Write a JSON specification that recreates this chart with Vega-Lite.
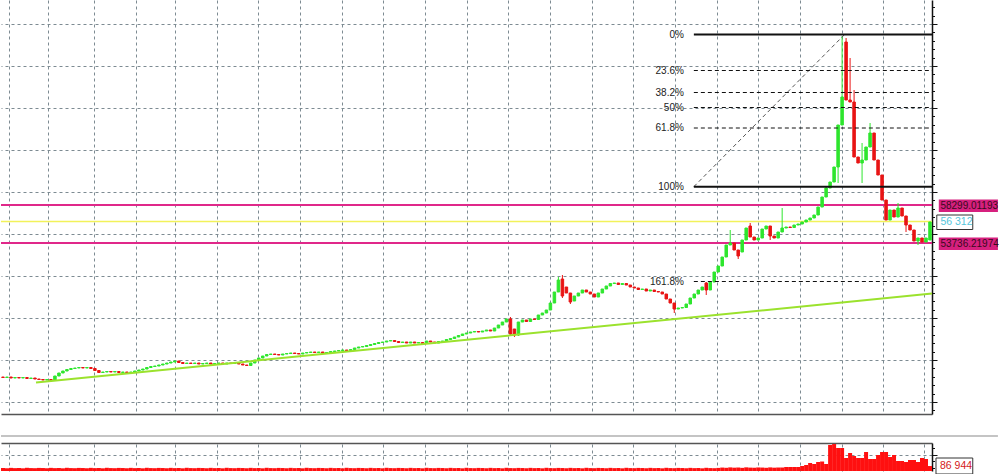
{
"$schema": "https://vega.github.io/schema/vega-lite/v6.json",
"padding": 0,
"background": "white",
"bounds": "flush",
"spacing": 29,
"config": {"view": {"stroke": null}, "font": "Liberation Sans", "scale": {"continuousPadding": 0}},
"datasets": {
"k": [
{"i":0,"o":37660,"c":37600,"v":52000},{"i":1,"o":37600,"c":37660,"v":48000},{"i":2,"o":37660,"c":37540,"v":55000},{"i":3,"o":37540,"c":37600,"v":50000},{"i":4,"o":37600,"c":37540,"v":53000},
{"i":5,"o":37540,"c":37600,"v":47000},{"i":6,"o":37600,"c":37480,"v":56000},{"i":7,"o":37480,"c":37540,"v":51000},{"i":8,"o":37540,"c":37420,"v":49000},{"i":9,"o":37420,"c":37360,"v":54000},
{"i":10,"o":37360,"c":37300,"v":52000},{"i":11,"o":37300,"c":37360,"v":48000},{"i":12,"o":37360,"c":37240,"v":55000},{"i":13,"o":37240,"c":37780,"v":50000},{"i":14,"o":37780,"c":38140,"v":53000},
{"i":15,"o":38140,"c":38380,"v":47000},{"i":16,"o":38380,"c":38560,"v":56000},{"i":17,"o":38560,"c":38680,"v":51000},{"i":18,"o":38680,"c":38740,"v":49000},{"i":19,"o":38740,"c":38800,"v":54000},
{"i":20,"o":38800,"c":38740,"v":52000},{"i":21,"o":38740,"c":38800,"v":48000},{"i":22,"o":38800,"c":38680,"v":55000},{"i":23,"o":38680,"c":38440,"v":50000},{"i":24,"o":38440,"c":38200,"v":53000},
{"i":25,"o":38200,"c":38260,"v":47000},{"i":26,"o":38260,"c":38320,"v":56000},{"i":27,"o":38320,"c":38260,"v":51000},{"i":28,"o":38260,"c":38320,"v":49000},{"i":29,"o":38320,"c":38200,"v":54000},
{"i":30,"o":38200,"c":38260,"v":52000},{"i":31,"o":38260,"c":38200,"v":48000},{"i":32,"o":38200,"c":38260,"v":55000},{"i":33,"o":38260,"c":38380,"v":50000},{"i":34,"o":38380,"c":38500,"v":53000},
{"i":35,"o":38500,"c":38620,"v":47000},{"i":36,"o":38620,"c":38800,"v":56000},{"i":37,"o":38800,"c":38920,"v":51000},{"i":38,"o":38920,"c":38980,"v":49000},{"i":39,"o":38980,"c":39100,"v":54000},
{"i":40,"o":39100,"c":39220,"v":52000},{"i":41,"o":39220,"c":39340,"v":48000},{"i":42,"o":39340,"c":39460,"v":55000},{"i":43,"o":39460,"c":39580,"v":50000},{"i":44,"o":39580,"c":39400,"v":53000},
{"i":45,"o":39400,"c":39280,"v":47000},{"i":46,"o":39280,"c":39340,"v":56000},{"i":47,"o":39340,"c":39280,"v":51000},{"i":48,"o":39280,"c":39340,"v":49000},{"i":49,"o":39340,"c":39220,"v":54000},
{"i":50,"o":39220,"c":39280,"v":52000},{"i":51,"o":39280,"c":39340,"v":48000},{"i":52,"o":39340,"c":39220,"v":55000},{"i":53,"o":39220,"c":39280,"v":50000},{"i":54,"o":39280,"c":39340,"v":53000},
{"i":55,"o":39340,"c":39220,"v":47000},{"i":56,"o":39220,"c":39340,"v":56000},{"i":57,"o":39340,"c":39280,"v":51000},{"i":58,"o":39280,"c":39340,"v":49000},{"i":59,"o":39340,"c":39220,"v":54000},
{"i":60,"o":39220,"c":39100,"v":52000},{"i":61,"o":39100,"c":39040,"v":48000},{"i":62,"o":39040,"c":39340,"v":55000},{"i":63,"o":39340,"c":39700,"v":50000},{"i":64,"o":39700,"c":39940,"v":53000},
{"i":65,"o":39940,"c":40180,"v":47000},{"i":66,"o":40180,"c":40360,"v":56000},{"i":67,"o":40360,"c":40420,"v":51000},{"i":68,"o":40420,"c":40360,"v":49000},{"i":69,"o":40360,"c":40300,"v":54000},
{"i":70,"o":40300,"c":40420,"v":52000},{"i":71,"o":40420,"c":40480,"v":48000},{"i":72,"o":40480,"c":40540,"v":55000},{"i":73,"o":40540,"c":40480,"v":50000},{"i":74,"o":40480,"c":40420,"v":53000},
{"i":75,"o":40420,"c":40540,"v":47000},{"i":76,"o":40540,"c":40600,"v":56000},{"i":77,"o":40600,"c":40660,"v":51000},{"i":78,"o":40660,"c":40600,"v":49000},{"i":79,"o":40600,"c":40660,"v":54000},
{"i":80,"o":40660,"c":40540,"v":52000},{"i":81,"o":40540,"c":40600,"v":48000},{"i":82,"o":40600,"c":40720,"v":55000},{"i":83,"o":40720,"c":40780,"v":50000},{"i":84,"o":40780,"c":40840,"v":53000},
{"i":85,"o":40840,"c":40900,"v":47000},{"i":86,"o":40900,"c":40840,"v":56000},{"i":87,"o":40840,"c":40960,"v":51000},{"i":88,"o":40960,"c":41140,"v":49000},{"i":89,"o":41140,"c":41260,"v":54000},
{"i":90,"o":41260,"c":41320,"v":52000},{"i":91,"o":41320,"c":41440,"v":48000},{"i":92,"o":41440,"c":41560,"v":55000},{"i":93,"o":41560,"c":41680,"v":50000},{"i":94,"o":41680,"c":41800,"v":53000},
{"i":95,"o":41800,"c":41860,"v":47000},{"i":96,"o":41860,"c":41980,"v":56000},{"i":97,"o":41980,"c":42040,"v":51000},{"i":98,"o":42040,"c":41920,"v":49000},{"i":99,"o":41920,"c":41800,"v":54000},
{"i":100,"o":41800,"c":41860,"v":52000},{"i":101,"o":41860,"c":41740,"v":48000},{"i":102,"o":41740,"c":41860,"v":55000},{"i":103,"o":41860,"c":41740,"v":50000},{"i":104,"o":41740,"c":41800,"v":53000},
{"i":105,"o":41800,"c":41680,"v":47000},{"i":106,"o":41680,"c":41980,"v":56000},{"i":107,"o":41980,"c":41860,"v":51000},{"i":108,"o":41860,"c":41740,"v":49000},{"i":109,"o":41740,"c":41920,"v":54000},
{"i":110,"o":41920,"c":41980,"v":52000},{"i":111,"o":41980,"c":42160,"v":48000},{"i":112,"o":42160,"c":42280,"v":55000},{"i":113,"o":42280,"c":42460,"v":50000},{"i":114,"o":42460,"c":42640,"v":53000},
{"i":115,"o":42640,"c":42820,"v":47000},{"i":116,"o":42820,"c":42940,"v":56000},{"i":117,"o":42940,"c":43060,"v":51000},{"i":118,"o":43060,"c":43120,"v":49000},{"i":119,"o":43120,"c":43060,"v":54000},
{"i":120,"o":43060,"c":43180,"v":52000},{"i":121,"o":43180,"c":43300,"v":48000},{"i":122,"o":43300,"c":43180,"v":55000},{"i":123,"o":43180,"c":43540,"v":50000},{"i":124,"o":43540,"c":43900,"v":53000},
{"i":125,"o":43900,"c":44260,"v":47000},{"i":126,"o":44260,"c":44620,"v":56000},{"i":127,"o":44620,"c":42820,"h":44860,"l":42580,"v":51000},{"i":128,"o":43420,"c":42700,"h":43420,"l":42460,"v":49000},{"i":129,"o":42700,"c":44260,"h":44260,"l":42580,"v":54000},
{"i":130,"o":44260,"c":44500,"v":52000},{"i":131,"o":44500,"c":44320,"v":48000},{"i":132,"o":44320,"c":44620,"v":55000},{"i":133,"o":44620,"c":44560,"v":50000},{"i":134,"o":44560,"c":45100,"v":53000},
{"i":135,"o":45100,"c":45340,"v":47000},{"i":136,"o":45340,"c":45700,"v":56000},{"i":137,"o":45700,"c":46540,"v":51000},{"i":138,"o":46540,"c":47860,"v":49000},{"i":139,"o":47860,"c":49300,"h":49660,"l":47860,"v":54000},
{"i":140,"o":49420,"c":47380,"h":49900,"l":47140,"v":52000},{"i":141,"o":48460,"c":47740,"v":48000},{"i":142,"o":47740,"c":46660,"h":47740,"l":46420,"v":55000},{"i":143,"o":46780,"c":47380,"v":50000},{"i":144,"o":47380,"c":47740,"v":53000},
{"i":145,"o":47740,"c":48100,"v":47000},{"i":146,"o":48100,"c":47860,"v":56000},{"i":147,"o":47860,"c":47620,"v":51000},{"i":148,"o":47620,"c":47260,"v":49000},{"i":149,"o":47260,"c":47740,"v":54000},
{"i":150,"o":47740,"c":48220,"v":52000},{"i":151,"o":48220,"c":48580,"v":48000},{"i":152,"o":48580,"c":48880,"v":55000},{"i":153,"o":48880,"c":48940,"v":50000},{"i":154,"o":48940,"c":48760,"v":53000},
{"i":155,"o":48760,"c":48880,"v":47000},{"i":156,"o":48880,"c":48700,"v":56000},{"i":157,"o":48700,"c":48460,"v":51000},{"i":158,"o":48460,"c":48340,"v":49000},{"i":159,"o":48340,"c":48160,"v":54000},
{"i":160,"o":48160,"c":48220,"v":52000},{"i":161,"o":48220,"c":47980,"v":48000},{"i":162,"o":47980,"c":48100,"v":55000},{"i":163,"o":48100,"c":47920,"v":50000},{"i":164,"o":47920,"c":47860,"v":53000},
{"i":165,"o":47860,"c":47620,"v":47000},{"i":166,"o":47620,"c":47020,"v":56000},{"i":167,"o":47020,"c":46540,"v":51000},{"i":168,"o":46540,"c":45820,"h":46540,"l":45340,"v":49000},{"i":169,"o":45820,"c":45940,"v":54000},
{"i":170,"o":45940,"c":46000,"v":52000},{"i":171,"o":46000,"c":46420,"v":48000},{"i":172,"o":46420,"c":47140,"v":55000},{"i":173,"o":47140,"c":47620,"v":50000},{"i":174,"o":47620,"c":48100,"v":53000},
{"i":175,"o":48100,"c":48460,"v":47000},{"i":176,"o":48940,"c":48100,"h":49060,"l":47500,"v":56000},{"i":177,"o":48100,"c":49060,"v":51000},{"i":178,"o":49060,"c":50260,"v":49000},{"i":179,"o":50260,"c":50980,"v":54000},
{"i":180,"o":50980,"c":52060,"v":60000},{"i":181,"o":52060,"c":53500,"v":56000},{"i":182,"o":53500,"c":53740,"h":55300,"l":53500,"v":63000},{"i":183,"o":53740,"c":52900,"v":58000},{"i":184,"o":52900,"c":52180,"h":52900,"l":51820,"v":61000},
{"i":185,"o":52660,"c":54100,"v":55000},{"i":186,"o":54100,"c":55540,"v":64000},{"i":187,"o":55780,"c":54460,"h":56140,"l":54460,"v":59000},{"i":188,"o":54460,"c":54100,"v":57000},{"i":189,"o":54100,"c":54340,"v":62000},
{"i":190,"o":54340,"c":55420,"v":60000},{"i":191,"o":55420,"c":55780,"v":56000},{"i":192,"o":55780,"c":54580,"h":55780,"l":54100,"v":63000},{"i":193,"o":54580,"c":54340,"v":58000},{"i":194,"o":54340,"c":55060,"v":61000},
{"i":195,"o":55060,"c":55540,"h":57940,"l":55060,"v":61000},{"i":196,"o":55540,"c":55660,"v":70000},{"i":197,"o":55660,"c":55600,"v":70000},{"i":198,"o":55600,"c":55900,"v":70000},{"i":199,"o":55900,"c":56020,"v":70000},
{"i":200,"o":56020,"c":56260,"v":87500},{"i":201,"o":56260,"c":56500,"v":105000},{"i":202,"o":56500,"c":56740,"v":140000},{"i":203,"o":56740,"c":57100,"v":122500},{"i":204,"o":57100,"c":58060,"v":157500},
{"i":205,"o":58060,"c":59260,"v":166000},{"i":206,"o":59260,"c":60340,"h":60580,"l":59260,"v":122500},{"i":207,"o":60340,"c":61060,"v":455000},{"i":208,"o":61060,"c":62860,"v":472000},{"i":209,"o":62860,"c":67900,"h":67900,"l":60940,"v":402500},
{"i":210,"o":67900,"c":71260,"h":78580,"l":67900,"v":402500},{"i":211,"o":77860,"c":70900,"h":78340,"l":70900,"v":227500},{"i":212,"o":70900,"c":70660,"h":75940,"l":70660,"v":315000},{"i":213,"o":70660,"c":64060,"h":72100,"l":64060,"v":262500},{"i":214,"o":64060,"c":63340,"v":227500},
{"i":215,"o":63340,"c":63700,"h":65740,"l":60940,"v":227500},{"i":216,"o":63700,"c":65260,"v":332500},{"i":217,"o":65260,"c":66940,"h":68140,"l":65260,"v":210000},{"i":218,"o":66940,"c":63700,"v":210000},{"i":219,"o":63700,"c":61900,"v":280000},
{"i":220,"o":61900,"c":58900,"v":332500},{"i":221,"o":58900,"c":56500,"v":332500},{"i":222,"o":56500,"c":57700,"v":245000},{"i":223,"o":57700,"c":56860,"v":280000},{"i":224,"o":56860,"c":57940,"h":58540,"l":56860,"v":175000},
{"i":225,"o":57940,"c":56980,"v":175000},{"i":226,"o":56980,"c":55900,"h":56980,"l":55060,"v":157500},{"i":227,"o":55900,"c":55300,"v":192500},{"i":228,"o":55300,"c":53980,"v":192500},{"i":229,"o":53980,"c":54340,"h":54340,"l":53500,"v":157500},
{"i":230,"o":54340,"c":53860,"v":227500},{"i":231,"o":53860,"c":54340,"v":210000},{"i":232,"o":54100,"c":56260,"v":86944}
],
"fib": [
{"lbl":"0%","p":78760,"s":1},
{"lbl":"23.6%","p":74440,"s":0},
{"lbl":"38.2%","p":71800,"s":0},
{"lbl":"50%","p":70000,"s":0},
{"lbl":"61.8%","p":67540,"s":0},
{"lbl":"100%","p":60500,"s":1},
{"lbl":"161.8%","p":49120,"s":0}
]
},
"vconcat": [
{
"width": 931,
"height": 414,
"resolve": {"axis": {"x": "independent", "y": "independent"}},
"layer": [
{
"data": {"name": "k"},
"mark": {"type": "bar", "size": 3, "opacity": 0},
"encoding": {
"x": {"field": "i", "type": "quantitative", "scale": {"domain": [-0.5, 232.5], "nice": false, "zero": false, "padding": 0},
"axis": {"orient": "bottom", "values": [1.5, 11.3, 22.8, 33.3, 43.0, 53.6, 63.8, 74.3, 84.8, 95.1, 105.6, 116.1, 126.4, 136.9, 147.4, 157.7, 168.2, 178.7, 188.9, 199.4, 210.0, 220.2, 230.5], "grid": true, "gridColor": "#7d8b92", "gridDash": [3, 3], "gridWidth": 1, "labels": false, "ticks": false, "domain": true, "domainColor": "#555555", "domainWidth": 1.5, "title": null}},
"y": {"field": "o", "type": "quantitative", "scale": {"domain": [33220, 82900], "nice": false, "zero": false, "padding": 0},
"axis": {"orient": "right", "values": [82036, 81028, 80020, 79012, 78004, 76996, 75988, 74980, 73972, 72964, 71956, 70948, 69940, 68932, 67924, 66916, 65908, 64900, 63892, 62884, 61876, 60868, 59860, 58852, 57844, 56836, 55828, 54820, 53812, 52804, 51796, 50788, 49780, 48772, 47764, 46756, 45748, 44740, 43732, 42724, 41716, 40708, 39700, 38692, 37684, 36676, 35668, 34660, 33652],
"grid": true, "gridColor": "#7d8b92", "gridDash": [3, 3], "gridWidth": 1,
"gridOpacity": {"condition": {"test": "indexof([80020,74980,69940,64900,59860,54820,49780,44740,39700,34660], datum.value) >= 0", "value": 1}, "value": 0},
"tickSize": {"condition": {"test": "indexof([80020,74980,69940,64900,59860,54820,49780,44740,39700,34660], datum.value) >= 0", "value": 5}, "value": 2.5},
"tickColor": "#111111", "domainColor": "#111111", "domainWidth": 1.5, "labels": false, "title": null}},
"y2": {"field": "c"}
}
},
{
"data": {"values": [{"p": 58299.01193}, {"p": 53736.21974}]},
"mark": {"type": "rule", "color": "#e0288a", "strokeWidth": 2},
"encoding": {
"x": {"datum": -0.5, "type": "quantitative", "scale": {"domain": [-0.5, 232.5], "nice": false, "zero": false, "padding": 0}, "axis": null},
"x2": {"datum": 232.5},
"y": {"field": "p", "type": "quantitative", "scale": {"domain": [33220, 82900], "nice": false, "zero": false}, "axis": null}
}
},
{
"data": {"values": [{"p": 56312}]},
"mark": {"type": "rule", "color": "#f2f25a", "strokeWidth": 1.5},
"encoding": {
"x": {"datum": -0.5, "type": "quantitative", "scale": {"domain": [-0.5, 232.5], "nice": false, "zero": false, "padding": 0}, "axis": null},
"x2": {"datum": 232.5},
"y": {"field": "p", "type": "quantitative", "scale": {"domain": [33220, 82900], "nice": false, "zero": false}, "axis": null}
}
},
{
"data": {"name": "k"},
"transform": [{"filter": "isValid(datum.h)"}],
"mark": {"type": "rule", "strokeWidth": 1},
"encoding": {
"x": {"field": "i", "type": "quantitative", "scale": {"domain": [-0.5, 232.5], "nice": false, "zero": false, "padding": 0}, "axis": null},
"y": {"field": "l", "type": "quantitative", "scale": {"domain": [33220, 82900], "nice": false, "zero": false}, "axis": null},
"y2": {"field": "h"},
"color": {"condition": {"test": "datum.c >= datum.o", "value": "#2ee62e"}, "value": "#e81414"}
}
},
{
"data": {"name": "k"},
"mark": {"type": "bar", "size": 2.5, "strokeWidth": 1},
"encoding": {
"x": {"field": "i", "type": "quantitative", "scale": {"domain": [-0.5, 232.5], "nice": false, "zero": false, "padding": 0}, "axis": null},
"y": {"field": "o", "type": "quantitative", "scale": {"domain": [33220, 82900], "nice": false, "zero": false, "padding": 0}, "axis": null},
"y2": {"field": "c"},
"color": {"condition": {"test": "datum.c >= datum.o", "value": "#2ee62e"}, "value": "#e81414"},
"stroke": {"condition": {"test": "datum.c >= datum.o", "value": "#2ee62e"}, "value": "#e81414"}
}
},
{
"data": {"values": [{"i": 8.26, "p": 37000}, {"i": 232.5, "p": 47680}]},
"mark": {"type": "line", "color": "#9be22d", "strokeWidth": 2},
"encoding": {
"x": {"field": "i", "type": "quantitative", "scale": {"domain": [-0.5, 232.5], "nice": false, "zero": false, "padding": 0}, "axis": null},
"y": {"field": "p", "type": "quantitative", "scale": {"domain": [33220, 82900], "nice": false, "zero": false}, "axis": null}
}
},
{
"data": {"values": [{"i": 172.9, "p": 60500}, {"i": 210.5, "p": 78700}]},
"mark": {"type": "line", "color": "#555555", "strokeWidth": 1, "strokeDash": [4, 3]},
"encoding": {
"x": {"field": "i", "type": "quantitative", "scale": {"domain": [-0.5, 232.5], "nice": false, "zero": false, "padding": 0}, "axis": null},
"y": {"field": "p", "type": "quantitative", "scale": {"domain": [33220, 82900], "nice": false, "zero": false}, "axis": null}
}
},
{
"data": {"name": "fib"},
"transform": [{"filter": "datum.s == 1"}],
"mark": {"type": "rule", "color": "#111111", "strokeWidth": 2},
"encoding": {
"x": {"datum": 172.9, "type": "quantitative", "scale": {"domain": [-0.5, 232.5], "nice": false, "zero": false, "padding": 0}, "axis": null},
"x2": {"datum": 232.5},
"y": {"field": "p", "type": "quantitative", "scale": {"domain": [33220, 82900], "nice": false, "zero": false}, "axis": null}
}
},
{
"data": {"name": "fib"},
"transform": [{"filter": "datum.s == 0"}],
"mark": {"type": "rule", "color": "#111111", "strokeWidth": 1, "strokeDash": [4, 3]},
"encoding": {
"x": {"datum": 172.9, "type": "quantitative", "scale": {"domain": [-0.5, 232.5], "nice": false, "zero": false, "padding": 0}, "axis": null},
"x2": {"datum": 232.5},
"y": {"field": "p", "type": "quantitative", "scale": {"domain": [33220, 82900], "nice": false, "zero": false}, "axis": null}
}
},
{
"data": {"name": "fib"},
"mark": {"type": "text", "align": "right", "baseline": "middle", "fontSize": 10, "color": "#222222", "font": "Liberation Sans"},
"encoding": {
"x": {"datum": 170.4, "type": "quantitative", "scale": {"domain": [-0.5, 232.5], "nice": false, "zero": false, "padding": 0}, "axis": null},
"y": {"field": "p", "type": "quantitative", "scale": {"domain": [33220, 82900], "nice": false, "zero": false}, "axis": null},
"text": {"field": "lbl"}
}
},
{
"data": {"values": [{"t": "58299.01193"}]},
"layer": [
{"mark": {"type": "rect", "color": "#d6207e"},
"encoding": {
"x": {"datum": 234.2, "type": "quantitative", "scale": {"domain": [-0.5, 232.5], "nice": false, "zero": false, "padding": 0}, "axis": null},
"x2": {"datum": 249.0},
"y": {"datum": 58960, "type": "quantitative", "scale": {"domain": [33220, 82900], "nice": false, "zero": false}, "axis": null},
"y2": {"datum": 57460}}},
{"mark": {"type": "text", "align": "left", "baseline": "middle", "fontSize": 10, "color": "#3a0a20", "font": "Liberation Sans"},
"encoding": {
"x": {"datum": 234.6, "type": "quantitative", "scale": {"domain": [-0.5, 232.5], "nice": false, "zero": false, "padding": 0}, "axis": null},
"y": {"datum": 58210, "type": "quantitative", "scale": {"domain": [33220, 82900], "nice": false, "zero": false}, "axis": null},
"text": {"field": "t"}}}
]
},
{
"data": {"values": [{"t": "53736.21974"}]},
"layer": [
{"mark": {"type": "rect", "color": "#d6207e"},
"encoding": {
"x": {"datum": 234.2, "type": "quantitative", "scale": {"domain": [-0.5, 232.5], "nice": false, "zero": false, "padding": 0}, "axis": null},
"x2": {"datum": 249.0},
"y": {"datum": 54400, "type": "quantitative", "scale": {"domain": [33220, 82900], "nice": false, "zero": false}, "axis": null},
"y2": {"datum": 52900}}},
{"mark": {"type": "text", "align": "left", "baseline": "middle", "fontSize": 10, "color": "#3a0a20", "font": "Liberation Sans"},
"encoding": {
"x": {"datum": 234.6, "type": "quantitative", "scale": {"domain": [-0.5, 232.5], "nice": false, "zero": false, "padding": 0}, "axis": null},
"y": {"datum": 53650, "type": "quantitative", "scale": {"domain": [33220, 82900], "nice": false, "zero": false}, "axis": null},
"text": {"field": "t"}}}
]
},
{
"data": {"values": [{"t": "56 312"}]},
"layer": [
{"mark": {"type": "rect", "fill": "white", "stroke": "#333333", "strokeWidth": 1},
"encoding": {
"x": {"datum": 233.7, "type": "quantitative", "scale": {"domain": [-0.5, 232.5], "nice": false, "zero": false, "padding": 0}, "axis": null},
"x2": {"datum": 242.7},
"y": {"datum": 57100, "type": "quantitative", "scale": {"domain": [33220, 82900], "nice": false, "zero": false}, "axis": null},
"y2": {"datum": 55360}}},
{"mark": {"type": "text", "align": "left", "baseline": "middle", "fontSize": 10.5, "color": "#55c6dc", "font": "Liberation Sans"},
"encoding": {
"x": {"datum": 234.6, "type": "quantitative", "scale": {"domain": [-0.5, 232.5], "nice": false, "zero": false, "padding": 0}, "axis": null},
"y": {"datum": 56230, "type": "quantitative", "scale": {"domain": [33220, 82900], "nice": false, "zero": false}, "axis": null},
"text": {"field": "t"}}}
]
}
]
},
{
"width": 931,
"height": 28,
"resolve": {"axis": {"x": "independent", "y": "independent"}},
"layer": [
{
"data": {"name": "k"},
"mark": {"type": "bar", "size": 4, "color": "#ff1010"},
"encoding": {
"x": {"field": "i", "type": "quantitative", "scale": {"domain": [-0.5, 232.5], "nice": false, "zero": false, "padding": 0},
"axis": {"orient": "top", "values": [1.5, 11.3, 22.8, 33.3, 43.0, 53.6, 63.8, 74.3, 84.8, 95.1, 105.6, 116.1, 126.4, 136.9, 147.4, 157.7, 168.2, 178.7, 188.9, 199.4, 210.0, 220.2, 230.5], "grid": true, "gridColor": "#7d8b92", "gridDash": [3, 3], "gridWidth": 1, "labels": false, "ticks": false, "domain": true, "domainColor": "#555555", "domainWidth": 1.5, "title": null}},
"y": {"field": "v", "type": "quantitative", "scale": {"domain": [0, 490000], "nice": false, "zero": false, "padding": 0},
"axis": {"orient": "right", "values": [61250, 175000, 288750, 402500], "grid": true, "gridColor": "#7d8b92", "gridDash": [3, 3],
"gridOpacity": {"condition": {"test": "datum.value == 288750", "value": 1}, "value": 0},
"tickSize": {"condition": {"test": "datum.value == 288750", "value": 5}, "value": 2.5},
"tickColor": "#111111", "domainColor": "#111111", "domainWidth": 1.5, "labels": false, "title": null}}
}
},
{
"data": {"values": [{"v": 612500}]},
"mark": {"type": "rule", "color": "#b0b0b0", "strokeWidth": 1.5},
"encoding": {
"x": {"datum": -0.5, "type": "quantitative", "scale": {"domain": [-0.5, 232.5], "nice": false, "zero": false, "padding": 0}, "axis": null},
"x2": {"datum": 249.0},
"y": {"field": "v", "type": "quantitative", "scale": {"domain": [0, 490000], "nice": false, "zero": false, "padding": 0}, "axis": null}
}
},
{
"data": {"values": [{"t": "86 944"}]},
"layer": [
{"mark": {"type": "rect", "fill": "white", "stroke": "#333333", "strokeWidth": 1},
"encoding": {
"x": {"datum": 233.5, "type": "quantitative", "scale": {"domain": [-0.5, 232.5], "nice": false, "zero": false, "padding": 0}, "axis": null},
"x2": {"datum": 242.7},
"y": {"datum": 227500, "type": "quantitative", "scale": {"domain": [0, 490000], "nice": false, "zero": false, "padding": 0}, "axis": null},
"y2": {"datum": -52500}}},
{"mark": {"type": "text", "align": "left", "baseline": "middle", "fontSize": 10.5, "color": "#d42020", "font": "Liberation Sans"},
"encoding": {
"x": {"datum": 234.5, "type": "quantitative", "scale": {"domain": [-0.5, 232.5], "nice": false, "zero": false, "padding": 0}, "axis": null},
"y": {"datum": 87500, "type": "quantitative", "scale": {"domain": [0, 490000], "nice": false, "zero": false, "padding": 0}, "axis": null},
"text": {"field": "t"}}}
]
}
]
}
]
}
